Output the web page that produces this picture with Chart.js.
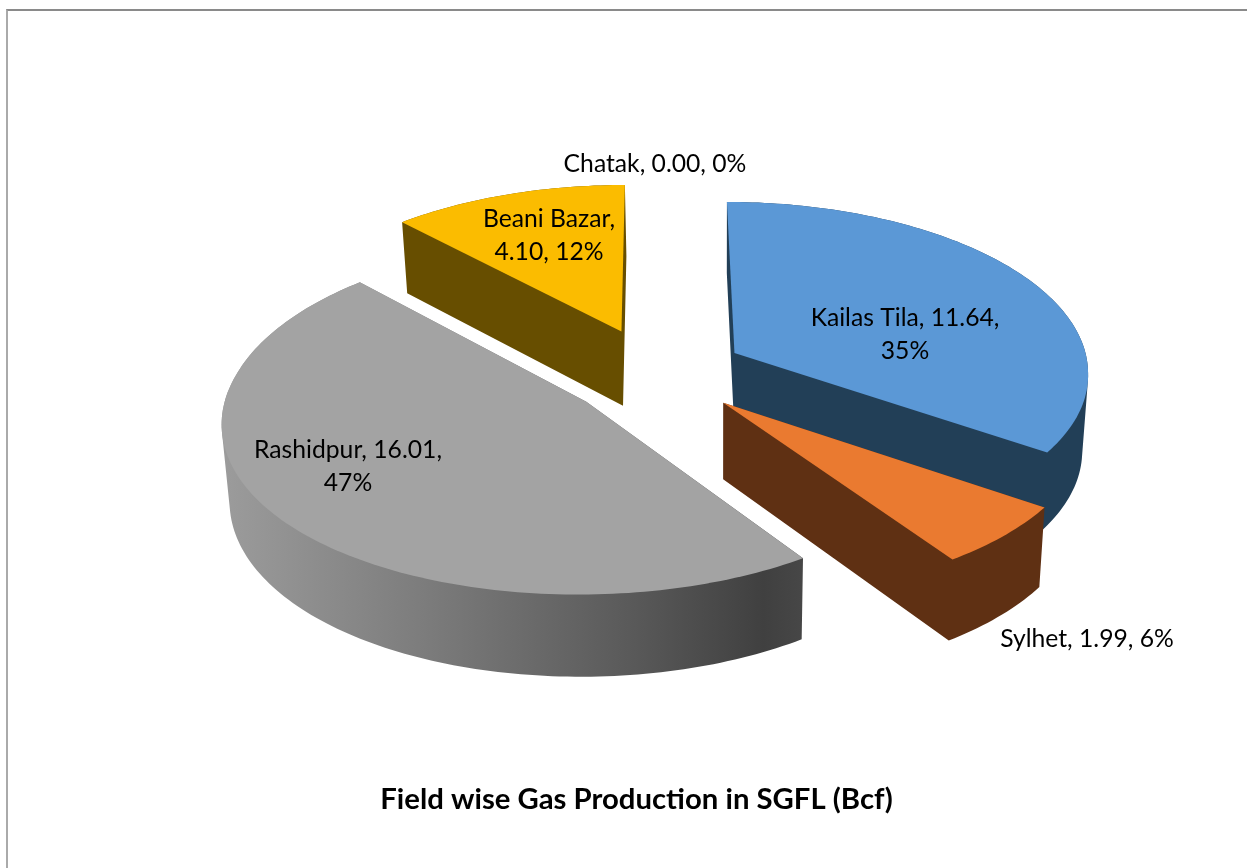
<!DOCTYPE html>
<html><head><meta charset="utf-8">
<style>
html,body{margin:0;padding:0;background:#fff;width:1247px;height:868px;overflow:hidden}
#wrap{position:relative;width:1247px;height:868px}
#frame{position:absolute;left:6px;top:9px;right:0;bottom:0;border-left:2px solid #aaaaaa;border-top:2px solid #8a8a8a;box-sizing:border-box}
canvas{position:absolute;left:0;top:0}
</style>
<script src="https://cdn.jsdelivr.net/npm/chart.js@4"></script>
</head><body>
<div id="wrap"><div id="frame"></div><canvas id="c" width="1247" height="868"></canvas></div>
<script>
const categories = ["Kailas Tila","Sylhet","Rashidpur","Beani Bazar","Chatak"];
const values = [11.64,1.99,16.01,4.10,0.00];
const percents = [35,6,47,12,0];
const topColors = ["#5b98d6","#ea7a30","#a3a3a3","#fbbc00","#4472c4"];
const wallColors = ["#223f57","#5f3013","#a3a3a3","#674e00","#223f57"];
const explodePct = [24,25,27,26,0];
const labelLines = [
  ["Kailas Tila, 11.64,","35%"],
  ["Sylhet, 1.99, 6%"],
  ["Rashidpur, 16.01,","47%"],
  ["Beani Bazar,","4.10, 12%"],
  ["Chatak, 0.00, 0%"]
];
const labelCenters = [[905,335],[1087,639],[348,467],[549,236],[655,164]];
const paintOrder = [3,2,0,1];

// view of the pie plane
const VIEW = {cx:660, cy:372, a:355, b:172, pxBack:0.10, pxFront:0.11, pyBack:0.10, pyFront:0.09, vx:720, k:0.016, h0:71, hSlope:0.03, yRef:222};
const sliceNudgeX = [0,-1,2,-5,0];
function proj(u,v,nx){
  const sx = 1 + (v<0 ? VIEW.pxBack : VIEW.pxFront)*v;
  const sy = 1 + (v<0 ? VIEW.pyBack : VIEW.pyFront)*v;
  return [VIEW.cx + nx + VIEW.a*u*sx, VIEW.cy + VIEW.b*v*sy];
}
function drop(pt){
  return [pt[0] + VIEW.k*(VIEW.vx-pt[0]), pt[1] + VIEW.h0 + Math.max(0,pt[1]-VIEW.yRef)*VIEW.hSlope];
}
function sliceOutline(el,nx){
  const {startAngle,endAngle} = el;
  const mid = (startAngle+endAngle)/2, e = el.options.offset/100;
  const ox = Math.cos(mid)*e, oy = Math.sin(mid)*e;
  const pts = [proj(ox,oy,nx)];
  const n = Math.max(8,Math.ceil((endAngle-startAngle)/0.02));
  for(let i=0;i<=n;i++){
    const t = startAngle+(endAngle-startAngle)*i/n;
    pts.push(proj(ox+Math.cos(t),oy+Math.sin(t),nx));
  }
  return pts;
}
function addPoly(ctx,pts){
  let area=0;
  pts.forEach((p,i)=>{const q=pts[(i+1)%pts.length];area+=p[0]*q[1]-q[0]*p[1];});
  const seq = area<0 ? pts.slice().reverse() : pts;
  seq.forEach((p,i)=>i?ctx.lineTo(p[0],p[1]):ctx.moveTo(p[0],p[1]));
  ctx.closePath();
}
const pie3d = {
  id:'pie3d',
  beforeDatasetDraw(){ return false; },
  afterDatasetsDraw(chart){
    const ctx = chart.ctx, arcs = chart.getDatasetMeta(0).data;
    ctx.save();
    paintOrder.forEach(i=>{
      const el = arcs[i];
      const top = sliceOutline(el,sliceNudgeX[i]), low = top.map(drop);
      let wall = wallColors[i];
      if(i===2){
        wall = ctx.createLinearGradient(220,0,804,0);
        wall.addColorStop(0,'#9c9c9c');
        wall.addColorStop(0.35,'#7c7c7c');
        wall.addColorStop(0.7,'#5a5a5a');
        wall.addColorStop(0.93,'#404040');
        wall.addColorStop(1,'#474747');
      }
      ctx.beginPath();
      for(let j=0;j<top.length;j++){
        const m=(j+1)%top.length;
        addPoly(ctx,[top[j],top[m],low[m],low[j]]);
      }
      addPoly(ctx,low);
      ctx.fillStyle=wall; ctx.fill('nonzero');
      ctx.beginPath();
      addPoly(ctx,top);
      ctx.fillStyle=topColors[i]; ctx.fill();
    });
    ctx.fillStyle='#000';
    ctx.font='24.7px Lato, Carlito, sans-serif';
    ctx.textAlign='center'; ctx.textBaseline='middle';
    labelLines.forEach((lines,i)=>{
      const [x,y]=labelCenters[i];
      lines.forEach((t,j)=>ctx.fillText(t,x,y+(j-(lines.length-1)/2)*33));
    });
    ctx.restore();
  }
};
new Chart(document.getElementById('c'),{
  type:'pie',
  data:{labels:categories,datasets:[{data:values,backgroundColor:topColors,offset:explodePct,borderWidth:0}]},
  options:{
    responsive:false,animation:false,rotation:0,
    layout:{padding:{left:26,bottom:51}},
    events:[],
    plugins:{
      legend:{display:false},tooltip:{enabled:false},
      title:{display:true,position:'bottom',text:"Field wise Gas Production in SGFL (Bcf)",color:'#000',
        font:{family:"Lato, Carlito, sans-serif",size:29.3,weight:'bold'},padding:0}
    }
  },
  plugins:[pie3d]
});
</script>
</body></html>
